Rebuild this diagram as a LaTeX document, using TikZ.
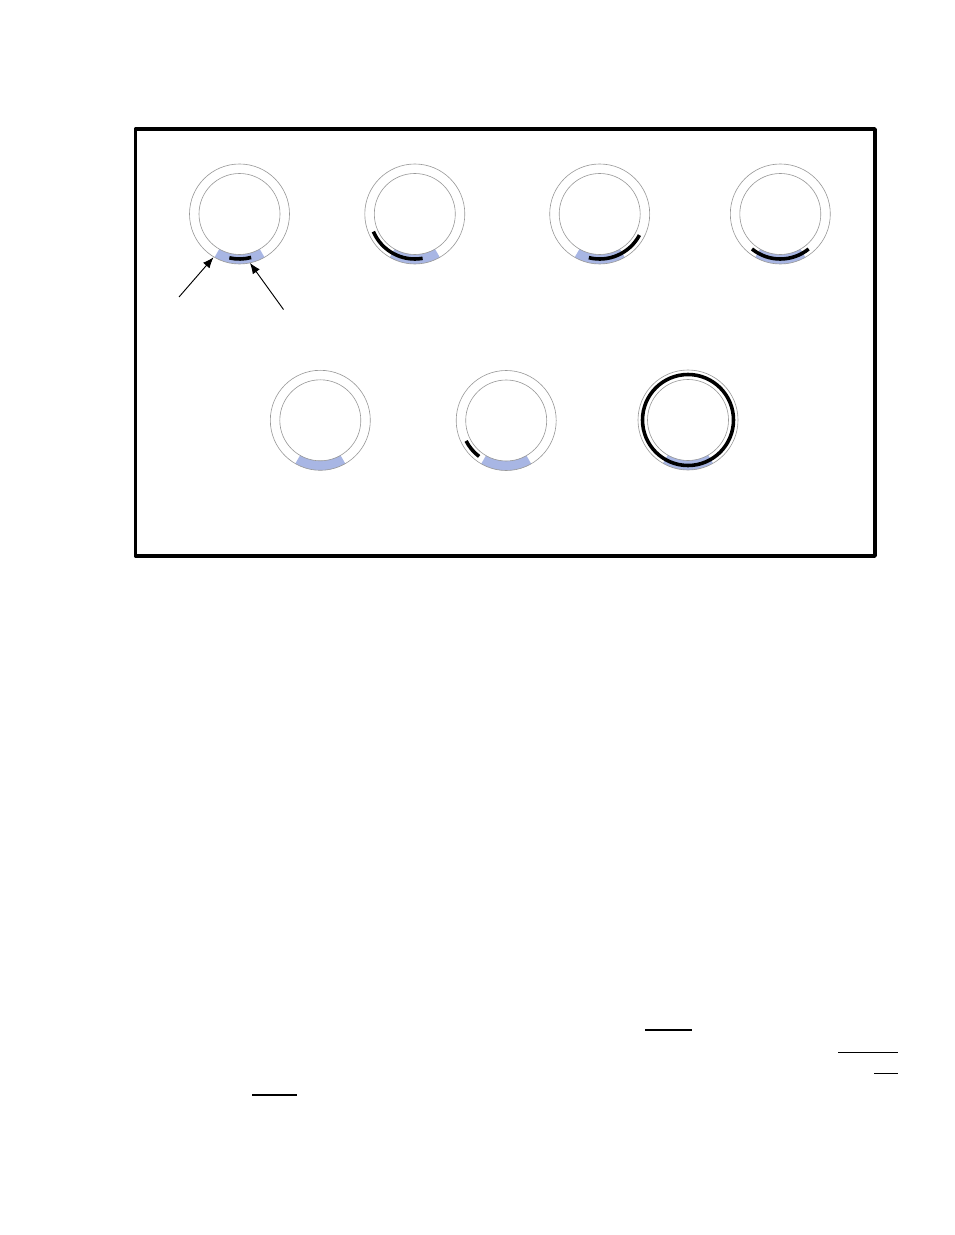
\documentclass[tikz,border=0pt]{standalone}
\usepackage{tikz}
\usetikzlibrary{arrows.meta,calc}
\definecolor{bandblue}{RGB}{168,182,228}
\tikzset{
  ringline/.style={gray!80,line width=0.4pt},
  blackarc/.style={black,line width=2.3pt},
  pointer/.style={-{Latex[length=7pt,width=5.5pt]},line width=0.6pt},
  blankline/.style={line width=0.7pt}
}
\newcommand \myring[1]
{
\fill[bandblue] ($(#1)+(-120:50)$) arc[start angle=-120,end angle=-60,radius=50]   % outer edge
  -- ($(#1)+(-60:40.5)$) arc[start angle=-60,end angle=-120,radius=40.5] -- cycle; % inner edge
\draw[ringline] (#1) circle[radius=50];
\draw[ringline] (#1) circle[radius=40.5];
}
\newcommand \myarc[3]
{
\draw[blackarc] ($(#1)+(#2:45)$) arc[start angle=#2,end angle=#3,radius=45];
}

\begin{document}
\begin{tikzpicture}[x=0.6439pt,y=0.6439pt,line join=round]
\useasboundingbox (0,0) rectangle (954,-1235);
\draw[line width=2.3pt] (135.5,-129) rectangle (875,-556);
% top row
\coordinate (R1) at (239.5,-214);
\coordinate (R2) at (414.8,-214);
\coordinate (R3) at (599.7,-214);
\coordinate (R4) at (780.3,-214);
% bottom row
\coordinate (R5) at (320.3,-420.3);
\coordinate (R6) at (506.2,-420.5);
\coordinate (R7) at (688,-420);
\myring{R1} \myring{R2} \myring{R3} \myring{R4}
\myring{R5} \myring{R6} \myring{R7}
\myarc{R1}{-103}{-75}
\myarc{R2}{-157}{-80}
\myarc{R3}{-104}{-28}
\myarc{R4}{-129}{-51}
\myarc{R6}{-153}{-127}
\draw[blackarc] (R7) circle[radius=45.5];
% pointers
\coordinate (P1) at (179,-297);
\coordinate (Q1) at ($(R1)+(-121:50.5)$);
\coordinate (P2) at (283.5,-309.5);
\coordinate (Q2) at ($(R1)+(-78:50)$);
\draw[pointer] (P1) -- (Q1);
\draw[pointer] (P2) -- (Q2);
% underlines
\draw[blankline] (645,-1030) -- (692,-1030);
\draw[blankline] (838,-1052.3) -- (898,-1052.3);
\draw[blankline] (874,-1073.3) -- (898,-1073.3);
\draw[blankline] (252,-1095) -- (297,-1095);
\end{tikzpicture}
\end{document}
